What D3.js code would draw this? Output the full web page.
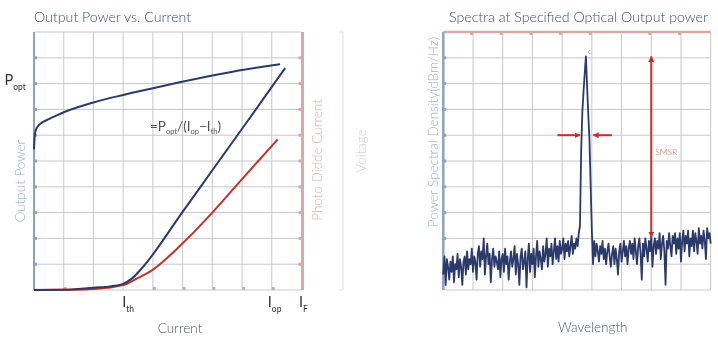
<!DOCTYPE html>
<html><head><meta charset="utf-8">
<script src="https://cdn.jsdelivr.net/npm/d3@7/dist/d3.min.js"></script>
<style>
body{margin:0;background:#fff}
svg{display:block;will-change:transform}
text{font-family:Lato,"Open Sans",sans-serif;font-weight:300}
text.sym{font-weight:400}
</style>
</head><body>
<svg id="chart" width="718" height="340"></svg>
<script>
// ---- Data (grid units: current / wavelength 0–9, signal 0–10) ----
// Forward voltage vs. current
const vCurrent = [0, 0.03, 0.09, 0.31, 0.5, 1, 2, 3, 4, 4.9, 6, 7, 8.28];
const voltage  = [5.45, 6.05, 6.28, 6.52, 6.62, 6.89, 7.27, 7.56, 7.82, 8.05, 8.31, 8.53, 8.75];
// Optical output power vs. current
const liCurrent = [0, 1, 2, 2.56, 3, 3.3, 3.67, 5, 6, 7.2, 8.45];
const outputPower = [0, 0.01, 0.09, 0.14, 0.24, 0.45, 0.9, 3.03, 4.64, 6.57, 8.6];
// Monitor photodiode current vs. current
const pdCurrent = [0, 1, 2, 3, 3.5, 3.9, 5, 6, 7, 8.2];
const photoCurrent = [0, 0.01, 0.04, 0.19, 0.47, 0.71, 1.81, 3.0, 4.3, 5.84];
// Current markers on the x axis
const currentMarks = [{main:"I", sub:"th", u:3}, {main:"I", sub:"op", u:7.9}, {main:"I", sub:"F", u:8.95}];

// Optical spectrum: PSD sampled every 0.04 grid units of wavelength
const wavelengthStep = 0.04;
const psd = [
 0.6,1.3,0.2,1.2,0.9,0.4,1.1,0.7,1.3,0.3,1.0,0.8,1.4,0.5,1.2,0.9,0.2,1.1,1.3,0.6,
 1.5,0.8,1.2,1.0,1.6,0.7,1.3,1.1,0.4,1.4,1.7,0.9,1.5,1.2,2.0,0.6,1.3,1.8,1.0,1.4,
 0.3,1.2,1.6,0.9,1.3,1.1,0.8,1.5,0.5,1.2,1.4,0.7,1.6,1.0,1.3,0.4,1.1,1.5,0.9,1.2,
 1.7,0.6,1.4,1.0,0.2,1.3,1.6,0.8,1.1,1.5,0.1,1.2,1.8,0.7,1.4,1.0,1.6,0.5,1.3,1.9,
 0.9,1.5,1.2,0.8,1.7,1.1,1.4,2.0,0.9,1.6,1.3,1.8,1.0,1.5,2.0,1.2,1.7,1.1,1.9,1.4,
 1.6,2.0,1.2,1.8,1.5,1.9,1.3,1.7,2.1,1.4,1.8,1.6,2.0,1.7,2.2,
 2.5,5.4,6.9,7.7,8.4,9.05,7.9,6.8,5.8,4.0,2.3,
 1.0,
 1.9,1.3,1.8,1.5,1.1,1.7,1.4,1.9,1.2,1.6,
 1.0,1.5,1.8,1.3,0.9,1.4,1.7,1.0,1.6,1.2,
 0.6,1.5,1.8,1.1,1.5,1.9,1.3,1.7,1.0,1.6,
 1.9,1.4,1.8,1.2,2.0,1.5,1.0,1.7,2.0,1.4,
 0.4,1.8,1.3,2.0,1.6,1.1,1.9,1.5,2.1,0.9,
 1.7,2.0,1.4,1.9,1.6,2.2,1.2,1.8,2.1,1.5,
 0.2,1.9,1.6,2.2,1.7,1.3,2.1,1.8,2.2,1.4,
 2.0,1.6,2.2,1.1,1.9,2.3,1.5,2.1,1.8,2.3,
 1.3,2.0,1.7,2.3,1.5,2.2,1.9,1.4,2.4,1.8,
 2.1,1.6,2.3,1.9,1.2,2.4,2.0,2.2,1.8
];
// Spectral annotations
const peakWavelength = 4.8, peakLevel = 9.05, sideModeLevel = 2.05, smsrWavelength = 7.0;
const linewidthLevel = 6.0, linewidthArrows = [[3.84, 4.6], [5.67, 5.05]];

// ---- Styles ----
const navy = "#2c3a6b", red = "#c4302b", grid = "#c8c8c8";
const axisBlue = "#8ea2c2", axisPink = "#dba8a8", titleCol = "#414a75";

const svg = d3.select("#chart");
const defs = svg.append("defs");
defs.append("marker").attr("id","arr").attr("viewBox","0 0 10 10")
  .attr("refX",9).attr("refY",5).attr("markerWidth",3).attr("markerHeight",3)
  .attr("orient","auto-start-reverse")
  .append("path").attr("d","M0,0L10,5L0,10Z").attr("fill",red);

const yRange = [290, 32];
const xL = d3.scaleLinear([0,9],[34,301.5]);
const xR = d3.scaleLinear([0,9],[443.3,710.7]);
const y = d3.scaleLinear([0,10], yRange);

function drawGrid(g, x) {
  g.append("g").selectAll("line").data(d3.range(0,10)).join("line")
    .attr("x1", d=>x(d)).attr("x2", d=>x(d)).attr("y1", y(0)).attr("y2", y(10))
    .attr("stroke", grid).attr("stroke-width", 1);
  g.append("g").selectAll("line").data(d3.range(0,11)).join("line")
    .attr("x1", x(0)).attr("x2", x(9)).attr("y1", d=>y(d)).attr("y2", d=>y(d))
    .attr("stroke", grid).attr("stroke-width", 1);
}

// ================= Left chart =================
const L = svg.append("g");
drawGrid(L, xL);
L.append("line").attr("x1",xL(9)).attr("x2",xL(9)).attr("y1",y(0)).attr("y2",y(10))
  .attr("stroke",grid);
// bottom tick squares
L.append("g").selectAll("rect").data([1,2,4,5,6,7,8]).join("rect")
  .attr("x", d=>xL(d)).attr("y", y(0)-3).attr("width",3).attr("height",3).attr("fill","#b5b5b5");
// left axis (output power)
L.append("line").attr("x1",xL(0)).attr("x2",xL(0)).attr("y1",y(0)).attr("y2",y(10))
  .attr("stroke",axisBlue).attr("stroke-width",2);
L.append("g").selectAll("rect").data(d3.range(1,10)).join("rect")
  .attr("x", xL(0)).attr("y", d=>y(d)-1.5).attr("width",3).attr("height",3).attr("fill",axisBlue);
// right axis (photodiode current)
L.append("line").attr("x1",xL(9)+1).attr("x2",xL(9)+1).attr("y1",y(0)).attr("y2",y(10))
  .attr("stroke",axisPink).attr("stroke-width",3);
L.append("g").selectAll("rect").data(d3.range(1,10)).join("rect")
  .attr("x", xL(9)-3).attr("y", d=>y(d)-1.5).attr("width",3).attr("height",3).attr("fill",axisPink);
// voltage axis
L.append("line").attr("x1",343).attr("x2",343).attr("y1",y(0)).attr("y2",y(10))
  .attr("stroke","#dedede").attr("stroke-width",1);
L.selectAll("line.vt").data([0,10]).join("line").attr("class","vt")
  .attr("x1",339).attr("x2",343).attr("y1",d=>y(d)).attr("y2",d=>y(d)).attr("stroke","#dedede");

const smooth = d3.line().curve(d3.curveMonotoneX);
L.append("path").attr("d", smooth(vCurrent.map((c,i)=>[xL(c), y(voltage[i])])))
  .attr("fill","none").attr("stroke",navy).attr("stroke-width",2);
L.append("path").attr("d", smooth(pdCurrent.map((c,i)=>[xL(c), y(photoCurrent[i])])))
  .attr("fill","none").attr("stroke",red).attr("stroke-width",2);
L.append("path").attr("d", smooth(liCurrent.map((c,i)=>[xL(c), y(outputPower[i])])))
  .attr("fill","none").attr("stroke",navy).attr("stroke-width",2);

// texts
L.append("text").attr("x",34).attr("y",21.5).attr("font-size",14.2).attr("fill",titleCol)
  .text("Output Power vs. Current");
L.append("text").attr("x",180).attr("y",333).attr("font-size",13.5).attr("fill","#4d5680")
  .attr("text-anchor","middle").text("Current");
L.append("text").attr("transform","translate(25,181) rotate(-90)").attr("text-anchor","middle")
  .attr("font-size",13.5).attr("fill","#9cb0d2").text("Output Power");
L.append("text").attr("transform","translate(322,160) rotate(-90)").attr("text-anchor","middle")
  .attr("font-size",13.5).attr("fill","#e3afaf").text("Photo Didde Current");
L.append("text").attr("transform","translate(366,151) rotate(-90)").attr("text-anchor","middle")
  .attr("font-size",13.5).attr("fill","#d2d2d2").text("Voltage");

function subText(g, x, yb, main, sub, size, subSize, col) {
  const t = g.append("text").attr("class","sym").attr("x",x).attr("y",yb)
    .attr("font-size",size).attr("fill",col);
  t.append("tspan").text(main);
  t.append("tspan").attr("dy",5).attr("font-size",subSize).text(sub);
  return t;
}
subText(L, 4.5, 85, "P", "opt", 14.5, 8.5, "#333");
currentMarks.forEach(m => subText(L, xL(m.u)-1, 307, m.main, m.sub, 14.5, 8.5, "#333"));

// slope-efficiency formula
const f = L.append("text").attr("class","sym").attr("x",150).attr("y",131)
  .attr("font-size",13.5).attr("fill","#555");
[["=P",0],["opt",1],["/(I",0],["op",1],["−I",0],["th",1],[")",0]].forEach((p,i,arr)=>{
  const prevSub = i>0 ? arr[i-1][1] : 0;
  f.append("tspan").attr("dy", p[1]===prevSub ? 0 : (p[1] ? 3 : -3))
    .attr("font-size", p[1] ? 7.5 : 13.5).text(p[0]);
});

// ================= Right chart =================
const R = svg.append("g");
drawGrid(R, xR);
R.append("line").attr("x1",xR(0)).attr("x2",xR(9)).attr("y1",y(10)).attr("y2",y(10))
  .attr("stroke",axisPink).attr("stroke-width",2.5);
R.append("g").selectAll("rect").data([1,2,3,4,5,7,8]).join("rect")
  .attr("x", d=>xR(d)-3).attr("y", y(10)).attr("width",3).attr("height",3).attr("fill",axisPink);
R.append("line").attr("x1",xR(0)).attr("x2",xR(0)).attr("y1",y(0)).attr("y2",y(10))
  .attr("stroke",axisBlue).attr("stroke-width",2.5);
R.append("g").selectAll("rect").data(d3.range(1,10)).join("rect")
  .attr("x", xR(0)).attr("y", d=>y(d)-1.5).attr("width",3).attr("height",3).attr("fill",axisBlue);

R.append("path")
  .attr("d", d3.line()(psd.map((v,i)=>[xR(i*wavelengthStep), y(v)])))
  .attr("fill","none").attr("stroke",navy).attr("stroke-width",1.8).attr("stroke-linejoin","round");

R.append("text").attr("x",xR(peakWavelength)+2).attr("y",y(peakLevel)-3).attr("font-size",8)
  .attr("fill","#6a7090").text("c");

// linewidth arrows
linewidthArrows.forEach(a => R.append("line")
  .attr("x1",xR(a[0])).attr("x2",xR(a[1])).attr("y1",y(linewidthLevel)).attr("y2",y(linewidthLevel))
  .attr("stroke",red).attr("stroke-width",2).attr("marker-end","url(#arr)"));
// side-mode suppression ratio
R.append("line").attr("x1",xR(smsrWavelength)).attr("x2",xR(smsrWavelength))
  .attr("y1",y(peakLevel)).attr("y2",y(sideModeLevel))
  .attr("stroke",red).attr("stroke-width",2)
  .attr("marker-start","url(#arr)").attr("marker-end","url(#arr)");
R.append("text").attr("x",xR(smsrWavelength)+4).attr("y",155).attr("font-size",8.5)
  .attr("fill","#d8605a").text("SMSR");

R.append("text").attr("x",449).attr("y",21.5).attr("font-size",14.2).attr("fill",titleCol)
  .text("Spectra at Specified Optical Output power");
R.append("text").attr("x",592.7).attr("y",332).attr("font-size",13.5).attr("fill","#4d5680")
  .attr("text-anchor","middle").text("Wavelength");
R.append("text").attr("transform","translate(438,132) rotate(-90)").attr("text-anchor","middle")
  .attr("font-size",13.5).attr("fill","#9cb0d2").text("Power Spectral Density(dBm/Hz)");
</script>
</body></html>
